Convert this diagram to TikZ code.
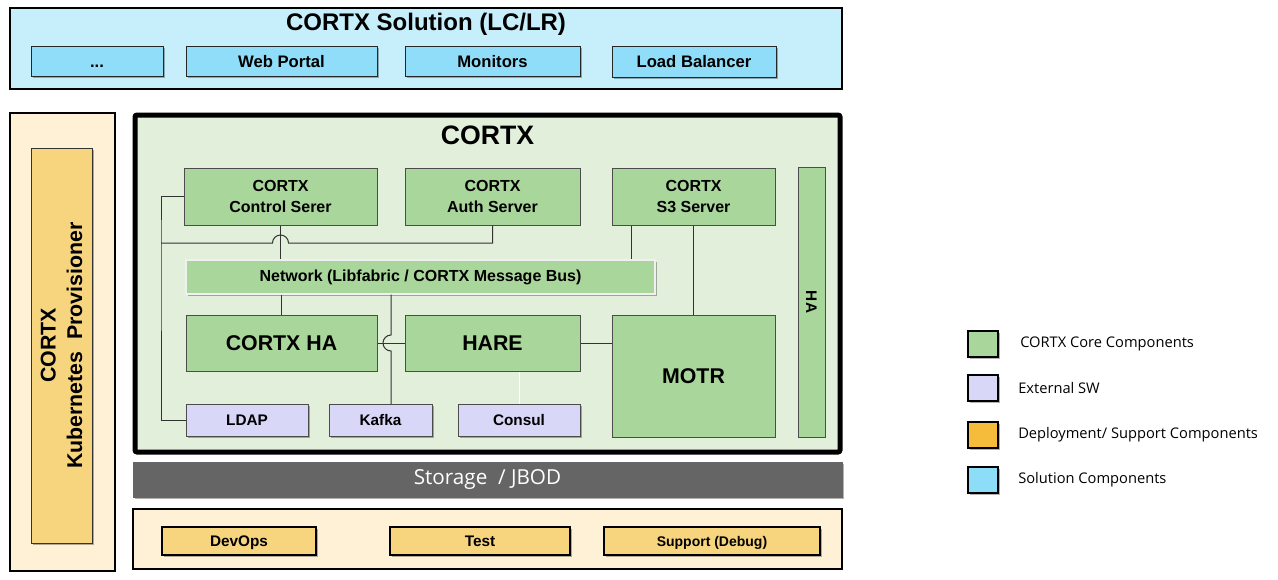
\documentclass[tikz,border=0pt]{standalone}
\usepackage{fontspec}
\setmainfont{Liberation Sans}
\newfontfamily\legendfont{Open Sans}
\usepackage{xcolor}
\usetikzlibrary{shadows}

\definecolor{solfill}{HTML}{C7EEFB}
\definecolor{solpart}{HTML}{8FDDF9}
\definecolor{corefill}{HTML}{E2EFDB}
\definecolor{coregreen}{HTML}{A9D69A}
\definecolor{extfill}{HTML}{D9D7F7}
\definecolor{deplfill}{HTML}{FEF1D5}
\definecolor{deplpart}{HTML}{F7D57E}
\definecolor{legorange}{HTML}{F4BC3A}
\definecolor{legblue}{HTML}{8EDDF8}
\definecolor{storgray}{HTML}{656565}

\tikzset{
  softshadow/.style={drop shadow={shadow xshift=1.5pt, shadow yshift=-1.5pt, opacity=0.3, fill=black}},
  oneline/.style={text height=#1, text depth=0pt},
  solpartbox/.style={draw=black!85, line width=0.75pt, fill=solpart, minimum height=22.5pt, inner sep=0pt, oneline=9pt, font=\fontsize{12.5}{15}\selectfont\bfseries, softshadow},
  corebox/.style={draw=black!70, line width=0.75pt, fill=coregreen, inner sep=0pt, align=center, font=\fontsize{12}{15.5}\selectfont\bfseries},
  bigcore/.style={corebox, oneline=11.5pt, font=\fontsize{16}{19}\selectfont\bfseries},
  extbox/.style={draw=black!70, line width=0.75pt, fill=extfill, minimum height=24pt, inner sep=0pt, oneline=8.2pt, font=\fontsize{11.5}{14}\selectfont\bfseries, softshadow},
  deplbox/.style={draw=black, line width=1pt, fill=deplpart, minimum height=21pt, inner sep=0pt, oneline=8.2pt, font=\fontsize{11.5}{14}\selectfont\bfseries, softshadow},
  legbox/.style={draw=black, line width=1.5pt, minimum width=22.5pt, minimum height=19.5pt, softshadow},
  legtext/.style={anchor=west, inner sep=0pt, font=\legendfont\fontsize{11}{13}\selectfont},
  wire/.style={draw=black!80, line width=0.75pt},
}

\begin{document}
\begin{tikzpicture}[x=0.75pt,y=-0.75pt]
\useasboundingbox (0,0) rectangle (1278,579);

% solution layer
\node (sol) [draw=black, line width=1.5pt, fill=solfill, minimum width=624pt, minimum height=60.75pt] at (426,48.5) {};
\node (soltitle) [font=\fontsize{18}{21}\selectfont\bfseries] at (426,24) {CORTX Solution (LC/LR)};
\node (dots) [solpartbox, minimum width=99pt] at (97,61) {...};
\node (web) [solpartbox, minimum width=143.25pt] at (281.5,61) {Web Portal};
\node (mon) [solpartbox, minimum width=131.25pt] at (492.5,61) {Monitors};
\node (lb) [solpartbox, minimum width=123pt, minimum height=23.25pt] at (694,61.5) {Load Balancer};

% provisioner
\node (provout) [draw=black, line width=1.2pt, fill=deplfill, minimum width=78.75pt, minimum height=343.5pt] at (62.5,342) {};
\node (prov) [draw=black!80, line width=0.75pt, fill=deplpart, minimum width=45.75pt, minimum height=296.25pt, softshadow] at (61.5,345.5) {};
\node (provtext) [rotate=90, align=center, font=\fontsize{16}{20}\selectfont\bfseries] at (prov.center) {CORTX\\Kubernetes\ \ Provisioner};

% core
\node (cortx) [draw=black, line width=3.75pt, fill=corefill, rounded corners=1.5pt, minimum width=528.75pt, minimum height=252.75pt] at (487.5,283.5) {};
\node (cortxtitle) [font=\fontsize{20}{24}\selectfont\bfseries] at (487.5,135) {CORTX};
\node (ctrl) [corebox, minimum width=144.75pt, minimum height=42.75pt] at (280.5,196.5) {CORTX\\Control Serer};
\node (auth) [corebox, minimum width=131.25pt, minimum height=42.75pt] at (492.5,196.5) {CORTX\\Auth Server};
\node (s3) [corebox, minimum width=122.25pt, minimum height=42.75pt] at (693.5,196.5) {CORTX\\S3 Server};
\node (havbar) [corebox, minimum width=20.25pt, minimum height=202.5pt] at (811.5,302) {};
\node (hatext) [rotate=-90, oneline=8.2pt, font=\fontsize{11.5}{14}\selectfont\bfseries] at (havbar.center) {HA};
\node (net) [corebox, draw=gray!12, line width=1pt, minimum width=351.75pt, minimum height=25.5pt, softshadow] at (420.5,277) {Network (Libfabric / CORTX Message Bus)};
\node (cha) [bigcore, minimum width=143.25pt, minimum height=42pt] at (281.5,343) {CORTX HA};
\node (hare) [bigcore, minimum width=131.25pt, minimum height=42pt] at (492.5,343) {HARE};
\node (motr) [bigcore, minimum width=122.25pt, minimum height=91.5pt] at (693.5,376) {MOTR};
\node (ldap) [extbox, minimum width=91.5pt] at (247,420) {LDAP};
\node (kafka) [extbox, minimum width=77.25pt] at (380.5,420) {Kafka};
\node (consul) [extbox, minimum width=91.5pt] at (519,420) {Consul};

% connectors
\coordinate (busL) at (161,243);
\coordinate (hopA) at (ctrl.south |- busL);
\coordinate (kx) at (391,404);
\coordinate (kcross) at (kx |- cha.east);
\coordinate (s3l) at ([xshift=15pt]s3.south west);
\draw[wire] (ctrl.west) -| (busL) |- (ldap.west);
\draw[wire] (ctrl.south) -- (ctrl.south |- net.north);
\draw[wire] (auth.south) |- ([xshift=6pt]hopA) arc[start angle=0, end angle=180, radius=6pt] -- (busL);
\draw[wire] (s3l) -- (s3l |- net.north);
\draw[wire] (s3.south) -- (motr.north);
\draw[wire] (cha.north |- net.south) -- (cha.north);
\draw[wire] (cha.east) -- (hare.west);
\draw[wire] (kx |- net.south) -- ([yshift=6pt]kcross) arc[start angle=90, end angle=270, radius=6pt] -- (kx);
\draw[wire] (hare.east) -- (hare.east -| motr.west);
\draw[white, line width=0.75pt] (consul.north |- hare.south) -- (consul.north);

% storage and support
\node (storage) [fill=storgray, draw=black!60, line width=0.75pt, minimum width=531.75pt, minimum height=26.25pt, text=white, font=\legendfont\fontsize{15.5}{18}\selectfont, softshadow] at (487.5,479.5) {Storage\ \ / JBOD};
\node (supp) [draw=black, line width=1.2pt, fill=deplfill, minimum width=531.75pt, minimum height=45pt] at (487.5,539) {};
\node (devops) [deplbox, minimum width=115.5pt] at (239,541) {DevOps};
\node (test) [deplbox, minimum width=135pt] at (480,541) {Test};
\node (debug) [deplbox, minimum width=162pt, oneline=7.5pt, font=\fontsize{10.5}{13}\selectfont\bfseries] at (712,541) {Support (Debug)};

% legend
\node (legcore) [legbox, fill=coregreen] at (983,343.5) {};
\node (legext) [legbox, fill=extfill] at (983,388) {};
\node (legdepl) [legbox, fill=legorange] at (983,434.5) {};
\node (legsol) [legbox, fill=legblue] at (983,479.5) {};
\node [legtext] at (1020,343.5) {CORTX Core Components};
\node [legtext] at (1018,388) {External SW};
\node [legtext] at (1018,434.5) {Deployment/ Support Components};
\node [legtext] at (1018,479.5) {Solution Components};
\end{tikzpicture}
\end{document}
